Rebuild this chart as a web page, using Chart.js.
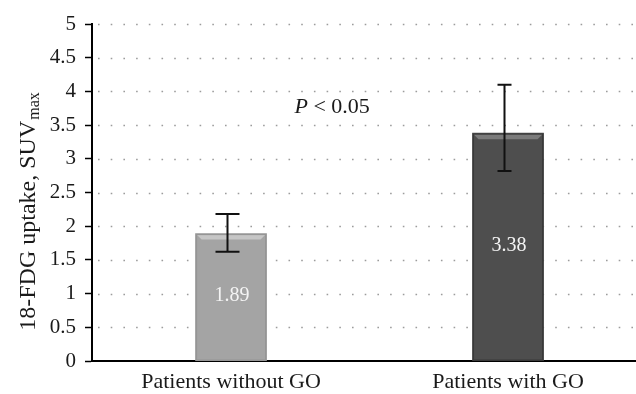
<!DOCTYPE html>
<html>
<head>
<meta charset="utf-8">
<script src="https://cdn.jsdelivr.net/npm/chart.js@4/dist/chart.umd.min.js"></script>
<style>
  html, body { margin: 0; padding: 0; background: #fff; }
  #wrap { width: 636px; height: 394px; }
</style>
</head>
<body>
<div id="wrap"><canvas id="chart"></canvas></div>
<script>
// --- Data ---
const categories = ['Patients without GO', 'Patients with GO'];
const values = [1.89, 3.38];
const errUpper = [2.18, 4.1];
const errLower = [1.62, 2.82];
const yTicks = [0, 0.5, 1, 1.5, 2, 2.5, 3, 3.5, 4, 4.5, 5];
const annotationText = ['P', ' < 0.05'];

// --- Styles ---
const FONT = '"Liberation Serif", "DejaVu Serif", serif';
const barColors = ['#a4a4a4', '#4e4e4e'];
const bevelColors = ['#c6c6c6', '#7b7b7b'];
const edgeColors = ['#959595', '#393939'];
const capWidths = [24, 14];

// dotted horizontal grid, drawn under the bars
const dottedGrid = {
    id: 'dottedGrid',
    beforeDatasetsDraw(chart) {
        const { ctx, chartArea, scales: { y } } = chart;
        ctx.save();
        ctx.strokeStyle = '#9c9c9c';
        ctx.lineWidth = 1.6;
        ctx.setLineDash([1.6, 11.1]);
        yTicks.forEach(v => {
            if (v === 0) return;
            const py = Math.round(y.getPixelForValue(v)) + 0.5;
            ctx.beginPath();
            ctx.moveTo(chartArea.left + 6, py);
            ctx.lineTo(chartArea.right, py);
            ctx.stroke();
        });
        ctx.restore();
    }
};

// bevel, error bars, value labels, P text
const extras = {
    id: 'extras',
    afterDatasetsDraw(chart) {
        const { ctx, scales: { x, y } } = chart;
        const meta = chart.getDatasetMeta(0);
        ctx.save();
        meta.data.forEach((bar, i) => {
            const half = bar.width / 2;
            const l = bar.x - half, r = bar.x + half, t = bar.y, b = bar.base;
            const bv = 6;
            // top bevel
            ctx.fillStyle = bevelColors[i];
            ctx.beginPath();
            ctx.moveTo(l, t);
            ctx.lineTo(r, t);
            ctx.lineTo(r - bv, t + bv);
            ctx.lineTo(l + bv, t + bv);
            ctx.closePath();
            ctx.fill();
            // outline
            ctx.strokeStyle = edgeColors[i];
            ctx.lineWidth = 1.5;
            ctx.strokeRect(l + 0.75, t + 0.75, bar.width - 1.5, b - t - 1);

            // value label
            ctx.fillStyle = '#f4f4f4';
            ctx.font = '20px ' + FONT;
            ctx.textAlign = 'center';
            ctx.textBaseline = 'middle';
            ctx.fillText(values[i].toFixed(2), bar.x + 1, (t + b) / 2 - 1);

            // error bar
            const ex = Math.round(bar.x) - 3.5;
            const yt = y.getPixelForValue(errUpper[i]);
            const yb = y.getPixelForValue(errLower[i]);
            const cw = capWidths[i] / 2;
            ctx.strokeStyle = '#111';
            ctx.lineWidth = 2;
            ctx.beginPath();
            ctx.moveTo(ex, yt);
            ctx.lineTo(ex, yb);
            ctx.moveTo(ex - cw, yt);
            ctx.lineTo(ex + cw, yt);
            ctx.moveTo(ex - cw, yb);
            ctx.lineTo(ex + cw, yb);
            ctx.stroke();
        });

        // significance text
        const px = x.getPixelForValue(0.365);
        const py = y.getPixelForValue(3.77);
        ctx.fillStyle = '#1a1a1a';
        ctx.textBaseline = 'middle';
        ctx.textAlign = 'left';
        ctx.font = 'italic 22px ' + FONT;
        const w1 = ctx.measureText(annotationText[0]).width;
        ctx.font = '22px ' + FONT;
        const w2 = ctx.measureText(annotationText[1]).width;
        const sx = px - (w1 + w2) / 2;
        ctx.font = 'italic 22px ' + FONT;
        ctx.fillText(annotationText[0], sx, py);
        ctx.font = '22px ' + FONT;
        ctx.fillText(annotationText[1], sx + w1, py);
        ctx.restore();
    },
    afterDraw(chart) {
        // y axis title with subscript
        const { ctx } = chart;
        const main = '18-FDG uptake, SUV';
        const sub = 'max';
        ctx.save();
        ctx.translate(29, 212);
        ctx.rotate(-Math.PI / 2);
        ctx.fillStyle = '#1a1a1a';
        ctx.textBaseline = 'middle';
        ctx.font = '24px ' + FONT;
        const mw = ctx.measureText(main).width;
        ctx.font = '16px ' + FONT;
        const sw = ctx.measureText(sub).width;
        const start = -(mw + sw) / 2;
        ctx.font = '24px ' + FONT;
        ctx.textAlign = 'left';
        ctx.fillText(main, start, 0);
        ctx.font = '16px ' + FONT;
        ctx.fillText(sub, start + mw + 1, 6);
        ctx.restore();
    }
};

const ctx = document.getElementById('chart').getContext('2d');
const chart = new Chart(ctx, {
    type: 'bar',
    data: {
        datasets: [{
            data: values.map((v, i) => ({ x: i, y: v })),
            backgroundColor: barColors,
            borderWidth: 0,
            barThickness: 71
        }]
    },
    options: {
        responsive: true,
        maintainAspectRatio: false,
        animation: false,
        events: [],
        layout: { padding: { top: 24, right: 0, bottom: 0, left: 0 } },
        plugins: {
            legend: { display: false },
            tooltip: { enabled: false },
            title: { display: false }
        },
        scales: {
            x: {
                type: 'linear',
                min: -0.502,
                max: 1.462,
                offset: false,
                afterFit: s => { s.height = 33; },
                ticks: {
                    stepSize: 1,
                    includeBounds: false,
                    autoSkip: false,
                    maxRotation: 0,
                    padding: 8,
                    color: '#1a1a1a',
                    font: { family: FONT, size: 22 },
                    callback: v => categories[v] || ''
                },
                grid: { display: true, offset: false, drawOnChartArea: false, drawTicks: false },
                border: { color: '#000', width: 2 }
            },
            y: {
                min: 0,
                max: 5,
                afterFit: s => { s.width = 92; },
                ticks: {
                    stepSize: 0.5,
                    padding: 9,
                    color: '#1a1a1a',
                    font: { family: FONT, size: 21 },
                    callback: v => String(v)
                },
                grid: {
                    drawOnChartArea: false,
                    drawTicks: true,
                    tickLength: 7,
                    tickColor: '#000',
                    tickWidth: 1.5
                },
                border: { color: '#000', width: 2 }
            }
        }
    },
    plugins: [dottedGrid, extras]
});
</script>
</body>
</html>
